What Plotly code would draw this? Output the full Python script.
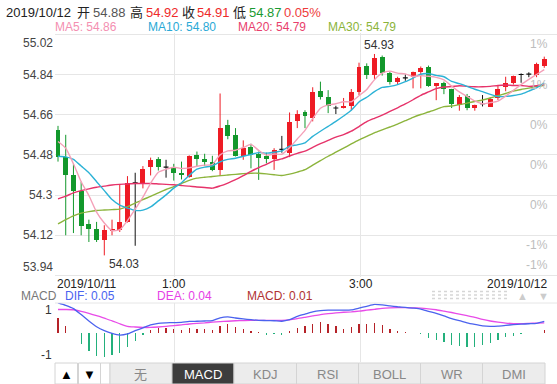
import plotly.graph_objects as go

W, H = 557, 384
FONT = "Liberation Sans, Arial, Noto Sans CJK SC, sans-serif"

# ---------------- data ----------------
idx = list(range(64))
opens = [54.59, 54.47, 54.39, 54.32, 54.17, 54.15, 54.10, 54.14, 54.145, 54.18,
         54.355, 54.35, 54.425, 54.46, 54.425, 54.42, 54.40, 54.383, 54.48, 54.46,
         54.45, 54.413, 54.614, 54.568, 54.477, 54.517, 54.483, 54.473, 54.46, 54.505,
         54.49, 54.63, 54.67, 54.645, 54.768, 54.738, 54.69, 54.69, 54.70, 54.762,
         54.878, 54.84, 54.92, 54.845, 54.808, 54.825, 54.83, 54.853, 54.872, 54.79,
         54.80, 54.774, 54.705, 54.744, 54.69, 54.71, 54.696, 54.734, 54.782, 54.80,
         54.84, 54.842, 54.838, 54.88]
highs = [54.61, 54.57, 54.44, 54.36, 54.19, 54.18, 54.165, 54.19, 54.35, 54.385,
         54.40, 54.43, 54.468, 54.47, 54.458, 54.44, 54.45, 54.478, 54.495, 54.485,
         54.476, 54.755, 54.637, 54.60, 54.545, 54.53, 54.495, 54.49, 54.51, 54.565,
         54.67, 54.68, 54.68, 54.783, 54.808, 54.77, 54.70, 54.735, 54.775, 54.893,
         54.89, 54.932, 54.925, 54.853, 54.83, 54.84, 54.853, 54.876, 54.88, 54.80,
         54.808, 54.776, 54.748, 54.753, 54.705, 54.748, 54.738, 54.793, 54.83, 54.835,
         54.845, 54.85, 54.893, 54.92]
lows = [54.45, 54.12, 54.13, 54.12, 54.09, 54.09, 54.03, 54.12, 54.135, 54.177,
        54.073, 54.33, 54.388, 54.41, 54.378, 54.365, 54.37, 54.378, 54.43, 54.43,
        54.407, 54.385, 54.55, 54.473, 54.458, 54.42, 54.368, 54.442, 54.413, 54.49,
        54.47, 54.60, 54.60, 54.63, 54.728, 54.667, 54.663, 54.688, 54.68, 54.748,
        54.82, 54.82, 54.835, 54.795, 54.796, 54.812, 54.778, 54.778, 54.785, 54.725,
        54.752, 54.69, 54.678, 54.68, 54.678, 54.697, 54.696, 54.726, 54.765, 54.795,
        54.803, 54.828, 54.828, 54.87]
closes = [54.47, 54.39, 54.32, 54.16, 54.15, 54.10, 54.145, 54.15, 54.18, 54.355,
          54.355, 54.417, 54.458, 54.425, 54.425, 54.398, 54.388, 54.475, 54.46, 54.45,
          54.413, 54.60, 54.566, 54.477, 54.51, 54.48, 54.468, 54.46, 54.50, 54.505,
          54.626, 54.662, 54.656, 54.763, 54.738, 54.70, 54.69, 54.70, 54.762, 54.872,
          54.84, 54.912, 54.845, 54.808, 54.825, 54.825, 54.85, 54.868, 54.79, 54.80,
          54.774, 54.708, 54.738, 54.688, 54.702, 54.71, 54.73, 54.774, 54.80, 54.832,
          54.84, 54.842, 54.886, 54.91]

ma5 = [54.54, 54.51, 54.44, 54.36, 54.298, 54.224, 54.175, 54.141, 54.145, 54.186,
       54.237, 54.291, 54.353, 54.402, 54.416, 54.425, 54.419, 54.422, 54.429, 54.434,
       54.437, 54.480, 54.498, 54.501, 54.513, 54.527, 54.500, 54.479, 54.484, 54.483,
       54.512, 54.551, 54.590, 54.642, 54.689, 54.704, 54.709, 54.718, 54.718, 54.745,
       54.773, 54.817, 54.846, 54.855, 54.846, 54.843, 54.831, 54.835, 54.832, 54.827,
       54.816, 54.788, 54.762, 54.742, 54.722, 54.709, 54.714, 54.721, 54.743, 54.769,
       54.795, 54.818, 54.840, 54.862]
ma10 = [54.474, 54.471, 54.460, 54.430, 54.400, 54.360, 54.320, 54.280, 54.255, 54.242,
        54.231, 54.233, 54.247, 54.274, 54.301, 54.331, 54.355, 54.388, 54.416, 54.425,
        54.431, 54.449, 54.460, 54.465, 54.474, 54.482, 54.490, 54.488, 54.492, 54.498,
        54.519, 54.525, 54.534, 54.563, 54.586, 54.608, 54.630, 54.654, 54.680, 54.717,
        54.738, 54.763, 54.782, 54.787, 54.795, 54.808, 54.824, 54.841, 54.844, 54.836,
        54.830, 54.809, 54.799, 54.787, 54.774, 54.763, 54.751, 54.741, 54.742, 54.746,
        54.752, 54.766, 54.780, 54.803]
ma20 = [54.283, 54.295, 54.310, 54.320, 54.328, 54.335, 54.340, 54.345, 54.348, 54.350,
        54.352, 54.352, 54.352, 54.350, 54.348, 54.346, 54.343, 54.340, 54.336, 54.334,
        54.331, 54.341, 54.354, 54.369, 54.387, 54.406, 54.423, 54.438, 54.454, 54.462,
        54.475, 54.487, 54.497, 54.514, 54.530, 54.545, 54.560, 54.571, 54.586, 54.607,
        54.629, 54.644, 54.658, 54.675, 54.691, 54.708, 54.727, 54.747, 54.762, 54.777,
        54.784, 54.786, 54.790, 54.787, 54.785, 54.785, 54.787, 54.791, 54.793, 54.791,
        54.791, 54.787, 54.790, 54.795]
ma30 = [54.171, 54.190, 54.207, 54.219, 54.226, 54.231, 54.233, 54.235, 54.237, 54.248,
        54.264, 54.280, 54.294, 54.310, 54.325, 54.338, 54.352, 54.366, 54.376, 54.380,
        54.383, 54.387, 54.390, 54.393, 54.396, 54.398, 54.398, 54.395, 54.391, 54.388,
        54.394, 54.403, 54.414, 54.434, 54.454, 54.474, 54.492, 54.510, 54.529, 54.547,
        54.563, 54.579, 54.592, 54.605, 54.618, 54.633, 54.648, 54.661, 54.672, 54.684,
        54.696, 54.699, 54.705, 54.712, 54.719, 54.726, 54.735, 54.745, 54.755, 54.766,
        54.773, 54.779, 54.787, 54.792]

dif = [1.29, 1.18, 1.04, 0.78, 0.50, 0.25, 0.08, -0.04, -0.11, -0.06,
       0.08, 0.20, 0.33, 0.40, 0.42, 0.43, 0.44, 0.48, 0.49, 0.50,
       0.52, 0.64, 0.68, 0.63, 0.59, 0.56, 0.53, 0.52, 0.51, 0.49,
       0.56, 0.70, 0.80, 0.90, 0.95, 0.97, 0.97, 0.97, 0.98, 1.06,
       1.14, 1.22, 1.20, 1.16, 1.12, 1.09, 1.06, 1.02, 0.92, 0.83,
       0.72, 0.60, 0.52, 0.42, 0.35, 0.29, 0.27, 0.28, 0.31, 0.34,
       0.36, 0.38, 0.40, 0.48]
dea = [1.00, 1.00, 0.99, 0.92, 0.83, 0.73, 0.62, 0.51, 0.38, 0.27,
       0.24, 0.22, 0.22, 0.24, 0.27, 0.30, 0.33, 0.37, 0.40, 0.42,
       0.45, 0.47, 0.49, 0.51, 0.52, 0.53, 0.53, 0.53, 0.53, 0.53,
       0.55, 0.60, 0.66, 0.72, 0.78, 0.82, 0.85, 0.88, 0.90, 0.93,
       0.97, 1.01, 1.05, 1.07, 1.08, 1.08, 1.07, 1.06, 1.03, 0.99,
       0.93, 0.87, 0.80, 0.73, 0.66, 0.57, 0.50, 0.45, 0.41, 0.39,
       0.39, 0.40, 0.41, 0.42]
macd_hist = [0.61, 0.29, -0.04, -0.50, -0.80, -1.03, -1.06, -0.99, -0.91, -0.65,
             -0.36, -0.09, 0.13, 0.20, 0.20, 0.17, 0.13, 0.20, 0.17, 0.17,
             0.10, 0.28, 0.35, 0.22, 0.14, 0.06, 0.01, -0.09, -0.05, -0.09,
             0.06, 0.20, 0.28, 0.39, 0.46, 0.36, 0.28, 0.17, 0.22, 0.35,
             0.36, 0.42, 0.32, 0.17, 0.07, 0.01, -0.04, -0.07, -0.22, -0.33,
             -0.43, -0.55, -0.59, -0.65, -0.65, -0.55, -0.45, -0.33, -0.19, -0.14,
             -0.07, -0.04, 0.0, 0.13]

price_ticks = [53.94, 54.12, 54.30, 54.48, 54.66, 54.84, 55.02]
price_tick_labels = ["53.94", "54.12", "54.3", "54.48", "54.66", "54.84", "55.02"]
pct_tick_labels = ["-1%", "-1%", "0%", "0%", "0%", "1%", "1%"]
time_tick_pos = [15.05, 39.2]
time_tick_labels = ["1:00", "3:00"]
macd_ticks = [1, -1]
tabs = ["无", "MACD", "KDJ", "RSI", "BOLL", "WR", "DMI"]

RED = "#ee1c25"
GREEN = "#13982c"
BLACK = "#111111"

fig = go.Figure()

# ---------------- candles ----------------
groups = {"up": ([], RED), "down": ([], GREEN), "flat": ([], BLACK)}
for i, o, c in zip(idx, opens, closes):
    if abs(c - o) < 1e-9:
        groups["flat"][0].append(i)
    elif c > o:
        groups["up"][0].append(i)
    else:
        groups["down"][0].append(i)

for key, (ids, col) in groups.items():
    wx, wy = [], []
    for i in ids:
        wx += [i, i, None]
        wy += [lows[i], highs[i], None]
    fig.add_trace(go.Scatter(x=wx, y=wy, mode="lines", line=dict(color=col, width=1),
                             hoverinfo="skip", xaxis="x", yaxis="y"))
    if key == "flat":
        hx, hy = [], []
        for i in ids:
            hx += [i - 0.32, i + 0.32, None]
            hy += [opens[i], opens[i], None]
        fig.add_trace(go.Scatter(x=hx, y=hy, mode="lines", line=dict(color=col, width=1.2),
                                 hoverinfo="skip", xaxis="x", yaxis="y"))
    else:
        bases = [min(opens[i], closes[i]) for i in ids]
        hts = [max(abs(closes[i] - opens[i]), 0.004) for i in ids]
        fig.add_trace(go.Bar(x=ids, y=hts, base=bases, width=0.64,
                             marker=dict(color=col, line=dict(width=0)),
                             hoverinfo="skip", xaxis="x", yaxis="y"))

# ---------------- moving averages ----------------
for vals, col in [(ma30, "#8cb43c"), (ma20, "#e6336a"), (ma10, "#2cb2d6"), (ma5, "#f4a0b8")]:
    fig.add_trace(go.Scatter(x=idx, y=vals, mode="lines",
                             line=dict(color=col, width=1.4, shape="spline", smoothing=0.6),
                             hoverinfo="skip", xaxis="x", yaxis="y"))

# ---------------- MACD ----------------
fig.add_trace(go.Bar(x=idx, y=macd_hist, width=0.17,
                     marker=dict(color=["#b52228" if v >= 0 else "#23b07c" for v in macd_hist],
                                 line=dict(width=0)),
                     hoverinfo="skip", xaxis="x2", yaxis="y2"))
fig.add_trace(go.Scatter(x=idx, y=dea, mode="lines",
                         line=dict(color="#e84be8", width=1.3, shape="spline", smoothing=0.6),
                         hoverinfo="skip", xaxis="x2", yaxis="y2"))
fig.add_trace(go.Scatter(x=idx, y=dif, mode="lines",
                         line=dict(color="#4b62ee", width=1.3, shape="spline", smoothing=0.6),
                         hoverinfo="skip", xaxis="x2", yaxis="y2"))

# ---------------- layout ----------------
X0 = 55 / W
XR = [-0.389, 64.65]
main_dom = [1 - 276.6 / H, 1 - 33.2 / H]
macd_dom = [1 - 362 / H, 1 - 303 / H]
GRID = "#e6e6e6"

def axis_common(**kw):
    d = dict(showline=False, zeroline=False, ticks="", showticklabels=False, fixedrange=True)
    d.update(kw)
    return d

fig.update_layout(
    width=W, height=H, autosize=False,
    margin=dict(l=0, r=0, t=0, b=0),
    paper_bgcolor="white", plot_bgcolor="white",
    showlegend=False, barmode="overlay", bargap=0,
    font=dict(family=FONT, size=12, color="#333"),
    xaxis=axis_common(domain=[X0, 1], range=XR, tickvals=time_tick_pos, showgrid=True,
                      gridcolor=GRID, gridwidth=1, anchor="y"),
    yaxis=axis_common(domain=main_dom, range=[53.935, 55.025], tickvals=price_ticks,
                      showgrid=True, gridcolor=GRID, gridwidth=1, anchor="x"),
    xaxis2=axis_common(domain=[X0, 1], range=XR, tickvals=time_tick_pos, showgrid=True,
                       gridcolor=GRID, gridwidth=1, anchor="y2"),
    yaxis2=axis_common(domain=macd_dom, range=[-1.283, 1.283], showgrid=False, anchor="x2"),
)

shapes = []
# MACD top line
shapes.append(dict(type="line", xref="paper", yref="paper", x0=X0, x1=1,
                   y0=1 - 303 / H, y1=1 - 303 / H, line=dict(color=GRID, width=1)))
# dotted widget
for yy in [291.5, 295, 298.5]:
    shapes.append(dict(type="line", xref="paper", yref="paper", x0=432 / W, x1=509 / W,
                       y0=1 - yy / H, y1=1 - yy / H, line=dict(color="#d6d6d6", width=1.5, dash="dot")))

anns = []

def A(text, x, y, color, size=12, xa="left", ya="middle"):
    anns.append(dict(text=text, x=x / W, y=1 - y / H, xref="paper", yref="paper",
                     xanchor=xa, yanchor=ya, showarrow=False, borderpad=0,
                     font=dict(size=size, color=color, family=FONT)))

# header
for t, x, c in [("2019/10/12", 5, "#222"), ("开", 76, "#222"), ("54.88", 92, "#555"),
                ("高", 129, "#222"), ("54.92", 145, "#ee2a2a"), ("收", 181, "#222"),
                ("54.91", 196, "#ee2a2a"), ("低", 232, "#222"), ("54.87", 248, "#1a9a32"),
                ("0.05%", 283, "#ee3b3b")]:
    A(t, x, 12, c, size=13)

# MA legend
for t, x, c in [("MA5: 54.86", 54, "#f48fb1"), ("MA10: 54.80", 147, "#29a9d6"),
                ("MA20: 54.79", 237, "#e83e6c"), ("MA30: 54.79", 327, "#8bb43a")]:
    A(t, x, 27, c)

# left price labels
for v, lab in zip(price_ticks, price_tick_labels):
    ys = 0
    if v == price_ticks[-1]:
        ys = -9
    elif v == price_ticks[0]:
        ys = 8
    anns.append(dict(text=lab, x=53.5 / W, y=v, xref="paper", yref="y", xanchor="right",
                     yanchor="middle", yshift=ys, showarrow=False, borderpad=0,
                     font=dict(size=12, color="#444", family=FONT)))
# right percent labels
for k, (v, lab) in enumerate(zip(price_ticks, pct_tick_labels)):
    if k == 0:
        ya, ys = "bottom", 2
    else:
        ya, ys = "top", -2
    anns.append(dict(text=lab, x=549 / W, y=v, xref="paper", yref="y", xanchor="right",
                     yanchor=ya, yshift=ys, showarrow=False, borderpad=0,
                     font=dict(size=12, color="#bdbdbd", family=FONT)))

# high / low marks
hi_i = highs.index(max(highs))
lo_i = lows.index(min(lows))
anns.append(dict(text=f"{highs[hi_i]:.2f}", x=hi_i, y=highs[hi_i], xref="x", yref="y",
                 xanchor="center", yanchor="bottom", xshift=5, yshift=1, showarrow=False,
                 borderpad=0, font=dict(size=12, color="#333", family=FONT)))
anns.append(dict(text=f"{lows[lo_i]:.2f}", x=lo_i, y=lows[lo_i], xref="x", yref="y",
                 xanchor="left", yanchor="top", xshift=4, yshift=-1, showarrow=False,
                 borderpad=0, font=dict(size=12, color="#333", family=FONT)))

# time labels
A("2019/10/11", 56, 283.5, "#222")
for p, lab in zip(time_tick_pos, time_tick_labels):
    anns.append(dict(text=lab, x=p, y=1 - 283.5 / H, xref="x", yref="paper", xanchor="center",
                     yanchor="middle", showarrow=False, borderpad=0,
                     font=dict(size=12, color="#222", family=FONT)))
A("2019/10/12", 548, 283.5, "#222", xa="right")

# MACD legend
A("MACD", 20, 295.5, "#777")
A("DIF: 0.05", 64, 295.5, "#4a63f0")
A("DEA: 0.04", 156, 295.5, "#e640e6")
A("MACD: 0.01", 246, 295.5, "#b03232")
A("▲", 522.5, 295.5, "#cccccc", size=11, xa="center")
A("▼", 543, 295.5, "#cccccc", size=11, xa="center")

# MACD axis labels
for v in macd_ticks:
    anns.append(dict(text=str(v), x=53 / W, y=v, xref="paper", yref="y2", xanchor="right",
                     yanchor="middle", showarrow=False, borderpad=0,
                     font=dict(size=12, color="#333", family=FONT)))

# tab bar
TOP, BOT = 363, 384
for x0, x1, t in [(55, 77.5, "▲"), (78.5, 100.5, "▼")]:
    shapes.append(dict(type="rect", xref="paper", yref="paper", x0=x0 / W, x1=x1 / W,
                       y0=1 - BOT / H, y1=1 - TOP / H, fillcolor="white",
                       line=dict(color="#d4d4d4", width=1)))
    A(t, (x0 + x1) / 2, 374, "#000", size=13, xa="center")
shapes.append(dict(type="rect", xref="paper", yref="paper", x0=100.5 / W, x1=110 / W,
                   y0=1 - BOT / H, y1=1 - TOP / H, fillcolor="white",
                   line=dict(color="#d4d4d4", width=1)))
edges = [110, 172, 234, 296.5, 358.5, 420.5, 482.5, 545]
for k, t in enumerate(tabs):
    active = t == "MACD"
    shapes.append(dict(type="rect", xref="paper", yref="paper", x0=edges[k] / W,
                       x1=edges[k + 1] / W, y0=1 - BOT / H, y1=1 - TOP / H,
                       fillcolor="#3d3d3d" if active else "#ececec",
                       line=dict(color="#d4d4d4", width=1)))
    A(t, (edges[k] + edges[k + 1]) / 2, 374, "#ffffff" if active else "#888888",
      size=13, xa="center")

fig.update_layout(shapes=shapes, annotations=anns)
fig.write_html("out.html", config={"displayModeBar": False, "staticPlot": True},
               post_script="document.body.style.margin='0px';document.body.style.overflow='hidden';")
